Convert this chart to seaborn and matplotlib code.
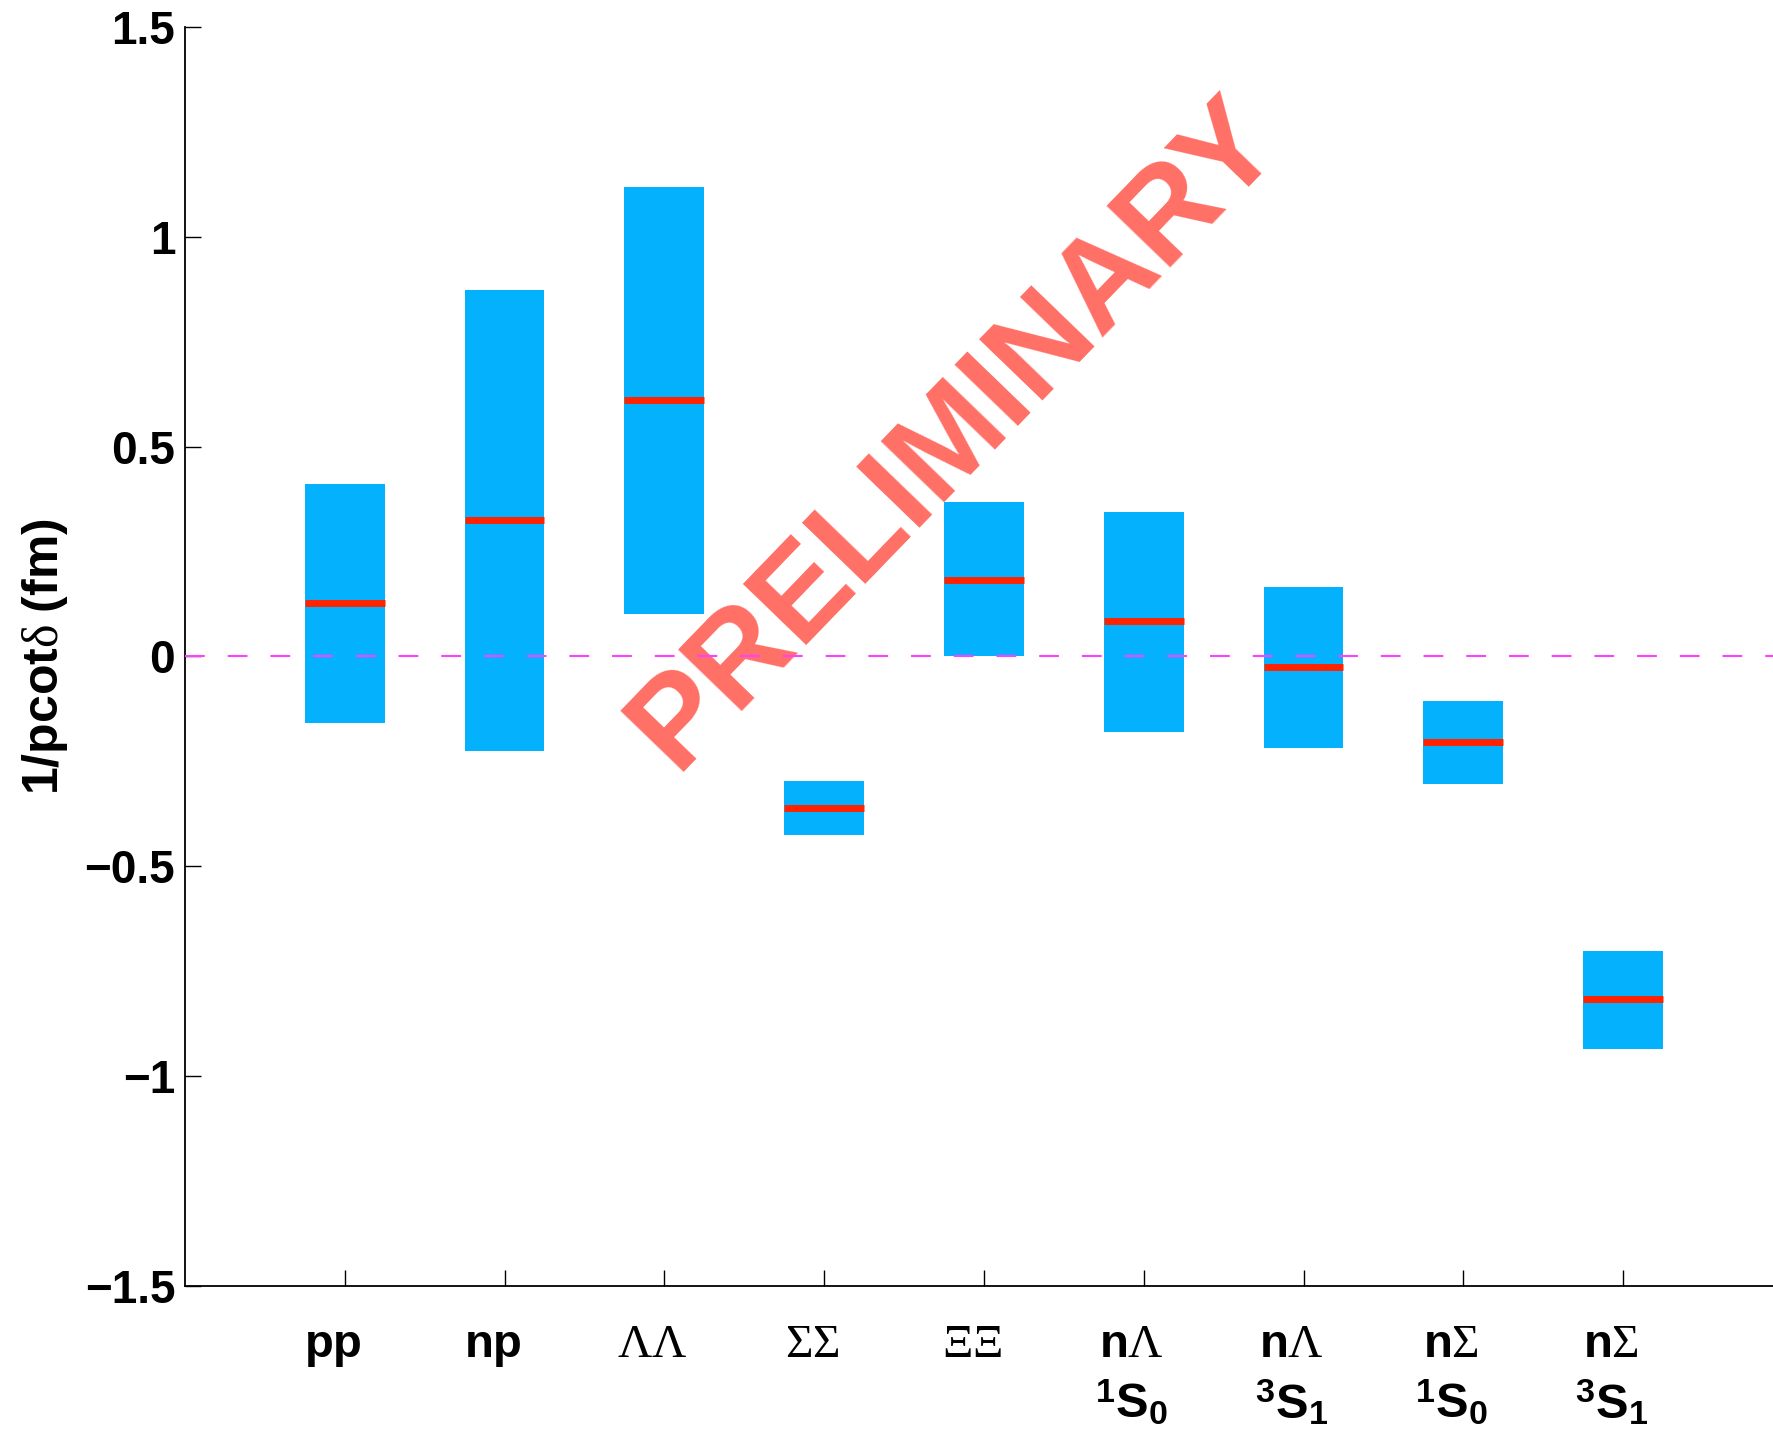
import matplotlib
matplotlib.use("Agg")
import matplotlib.pyplot as plt
from matplotlib import transforms
import pandas as pd
import seaborn as sns

# Baryon-baryon channels and their 1/(p cot delta) bands (fm)
channels = ["pp", "np", "ΛΛ", "ΣΣ", "ΞΞ", "nΛ 1S0", "nΛ 3S1", "nΣ 1S0", "nΣ 3S1"]
band_lower = [-0.158, -0.226, 0.100, -0.426, 0.000, -0.179, -0.219, -0.305, -0.936]
band_upper = [0.411, 0.874, 1.118, -0.296, 0.369, 0.345, 0.166, -0.105, -0.701]
central = [0.128, 0.325, 0.611, -0.362, 0.181, 0.084, -0.025, -0.203, -0.817]

# Two-line category labels (particle pair, partial wave)
pair_labels = [r"$\mathbf{pp}$", r"$\mathbf{np}$", r"$\Lambda\Lambda$", r"$\Sigma\Sigma$",
               r"$\Xi\Xi$", r"$\mathbf{n}\Lambda$", r"$\mathbf{n}\Lambda$",
               r"$\mathbf{n}\Sigma$", r"$\mathbf{n}\Sigma$"]
wave_labels = ["", "", "", "", "",
               r"$^{\mathbf{1}}\mathbf{S}_{\mathbf{0}}$", r"$^{\mathbf{3}}\mathbf{S}_{\mathbf{1}}$",
               r"$^{\mathbf{1}}\mathbf{S}_{\mathbf{0}}$", r"$^{\mathbf{3}}\mathbf{S}_{\mathbf{1}}$"]

y_ticks = [-1.5, -1, -0.5, 0, 0.5, 1, 1.5]
y_tick_labels = ["\u22121.5", "\u22121", "\u22120.5", "0", "0.5", "1", "1.5"]

sns.set_style("ticks")
plt.rcParams.update({
    "font.family": ["Liberation Sans", "DejaVu Sans"],
    "mathtext.fontset": "custom",
    "mathtext.rm": "Liberation Serif:weight=normal",
    "mathtext.it": "Liberation Serif:style=italic:weight=normal",
    "mathtext.bf": "Liberation Sans:weight=bold",
    "mathtext.sf": "Liberation Sans:weight=normal",
    "text.color": "black",
    "axes.labelcolor": "black",
    "axes.edgecolor": "black",
    "xtick.color": "black",
    "ytick.color": "black",
})

df = pd.DataFrame({
    "channel": channels,
    "lower": band_lower,
    "upper": band_upper,
    "central": central,
})
df["span"] = df["upper"] - df["lower"]

fig = plt.figure(figsize=(17.73, 14.41), dpi=100)
ax = fig.add_axes([0.1043, 0.1076, 0.9013, 0.8737])

# Floating bands: bar height = span, starting at the lower edge
sns.barplot(data=df, x="channel", y="span", bottom=df["lower"].to_numpy(),
            order=channels, color="#03B1FD", saturation=1, width=0.5,
            errorbar=None, linewidth=0, ax=ax, zorder=2)

pos = range(len(channels))
ax.hlines(df["central"], [p - 0.25 for p in pos], [p + 0.25 for p in pos],
          colors="#FF2300", linewidth=5, zorder=4)

ax.axhline(0, color="#FF40FF", linewidth=1.5, linestyle=(0, (9.5, 11)), zorder=3)

ax.text(3.82, 0.53, "PRELIMINARY", rotation=46, rotation_mode="anchor",
        ha="center", va="center", fontsize=92, fontweight="bold",
        color="#FF6F66", zorder=1)

ax.set_xlim(-1, 9)
ax.set_ylim(-1.5, 1.5)
ax.set_yticks(y_ticks, y_tick_labels, fontweight="bold")
ax.set_xticks(list(pos), [""] * len(channels))
ax.set_xlabel("")
ax.tick_params(direction="in", length=11.5, width=1.0, labelsize=33, pad=7)
for side in ("top", "right"):
    ax.spines[side].set_visible(False)
for side in ("left", "bottom"):
    ax.spines[side].set_linewidth(1.3)

ax.set_ylabel(r"$\mathbf{1/pcot}\mathrm{\delta}\ \mathbf{(fm)}$", fontsize=36)
ax.yaxis.set_label_coords(-0.072, 0.5)

trans = transforms.blended_transform_factory(ax.transData, ax.transAxes)
for p, top, wave in zip(pos, pair_labels, wave_labels):
    ax.text(p - 0.075, -0.0564, top, transform=trans, ha="center", va="baseline",
            fontsize=34, clip_on=False)
    if wave:
        ax.text(p - 0.075, -0.1056, wave, transform=trans, ha="center", va="baseline",
                fontsize=35, clip_on=False)

fig.savefig("out.png", dpi=100)
